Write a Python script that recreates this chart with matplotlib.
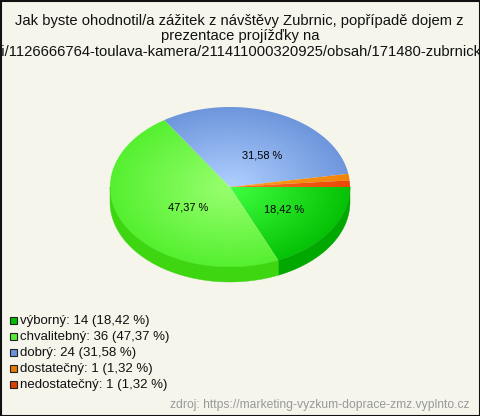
import numpy as np
import matplotlib
matplotlib.use("Agg")
import matplotlib.pyplot as plt
from matplotlib.colors import LinearSegmentedColormap
from matplotlib.patches import Polygon, Rectangle

plt.rcParams['font.family'] = ['Liberation Sans', 'DejaVu Sans']

categories = ['výborný', 'chvalitebný', 'dobrý', 'dostatečný', 'nedostatečný']
counts = [14, 36, 24, 1, 1]
inner_colors = ['#40ff40', '#99ff70', '#b0d0ff', '#ffa020', '#ff7020']
outer_colors = ['#06c206', '#55f030', '#6e96dc', '#f08408', '#e84808']
side_colors = ['#00a800', '#3ed610', '#5f82c0', '#d07000', '#c83c00']
legend_colors = ['#00c000', '#55ee33', '#6a90dc', '#e87c00', '#e04000']
title_lines = ['Jak byste ohodnotil/a zážitek z návštěvy Zubrnic, popřípadě dojem z',
               'prezentace projížďky na',
               'ni/1126666764-toulava-kamera/211411000320925/obsah/171480-zubrnick']
source = 'zdroj: https://marketing-vyzkum-doprace-zmz.vyplnto.cz'
label_pos = [(284, 212), (188, 210), (262, 158)]

CX, CY, RX, RY, DEPTH = 230, 187, 120, 80, 15
BG = '#f5f5ec'

fig = plt.figure(figsize=(4.8, 4.16), dpi=100, facecolor=BG)
ax = fig.add_axes([0, 0, 1, 1])
ax.set_xlim(0, 480)
ax.set_ylim(416, 0)
ax.axis('off')

total = sum(counts)
pct = [100 * c / total for c in counts]
edges = np.concatenate([[0], np.cumsum(counts) / total * 2 * np.pi])


def rim(a0, a1, n=200):
    t = np.linspace(a0, a1, n)
    return CX + RX * np.cos(t), CY + RY * np.sin(t)


# side wall
for i in range(len(counts)):
    a0, a1 = edges[i], min(edges[i + 1], np.pi)
    if a0 < a1:
        x, y = rim(a0, a1)
        pts = np.vstack([np.c_[x, y], np.c_[x[::-1], y[::-1] + DEPTH]])
        ax.add_patch(Polygon(pts, closed=True, fc=side_colors[i], ec=side_colors[i], lw=0.3))

# top faces with radial gradient
yy, xx = np.mgrid[CY - RY - 1:CY + RY + 1:400j, CX - RX - 1:CX + RX + 1:600j]
rr = np.clip(np.hypot((xx - CX) / RX, (yy - CY) / RY), 0, 1)
for i in range(len(counts)):
    x, y = rim(edges[i], edges[i + 1])
    pts = np.vstack([[CX, CY], np.c_[x, y]])
    patch = Polygon(pts, closed=True, fc='none', ec='none', transform=ax.transData)
    ax.add_patch(patch)
    cmap = LinearSegmentedColormap.from_list('g', [inner_colors[i], outer_colors[i]])
    im = ax.imshow(rr, cmap=cmap, vmin=0, vmax=1, aspect='auto', interpolation='bilinear',
                   extent=(CX - RX - 1, CX + RX + 1, CY + RY + 1, CY - RY - 1))
    im.set_clip_path(patch)
ax.set_xlim(0, 480)
ax.set_ylim(416, 0)

# slice labels
for p, (lx, ly) in zip(pct, label_pos):
    ax.text(lx, ly, f'{p:.2f} %'.replace('.', ','), ha='center', va='baseline',
            fontsize=7.9, color='black')

# title
for line, x, y in zip(title_lines, (239, 240, 237.5), (25, 40, 56)):
    ax.text(x, y, line, ha='center', va='baseline', fontsize=10.65, color='#111111', clip_on=False)

# legend
for i, (name, c, p) in enumerate(zip(categories, counts, pct)):
    y = 320 + i * 16
    ax.add_patch(Rectangle((10, y - 3.5), 6.5, 7, fc=legend_colors[i], ec='#222222', lw=0.8))
    ax.text(20, y + 4, f'{name}: {c} ({p:.2f} %)'.replace('.', ','), ha='left', va='baseline',
            fontsize=9.5, color='#111111')

ax.text(470, 408, source, ha='right', va='baseline', fontsize=8.75, color='#999999')

# frame
ax.add_patch(Rectangle((0.5, 0.5), 479, 415, fc='none', ec='#111111', lw=1.5, clip_on=False))

fig.savefig('out.png', dpi=100, facecolor=BG)
